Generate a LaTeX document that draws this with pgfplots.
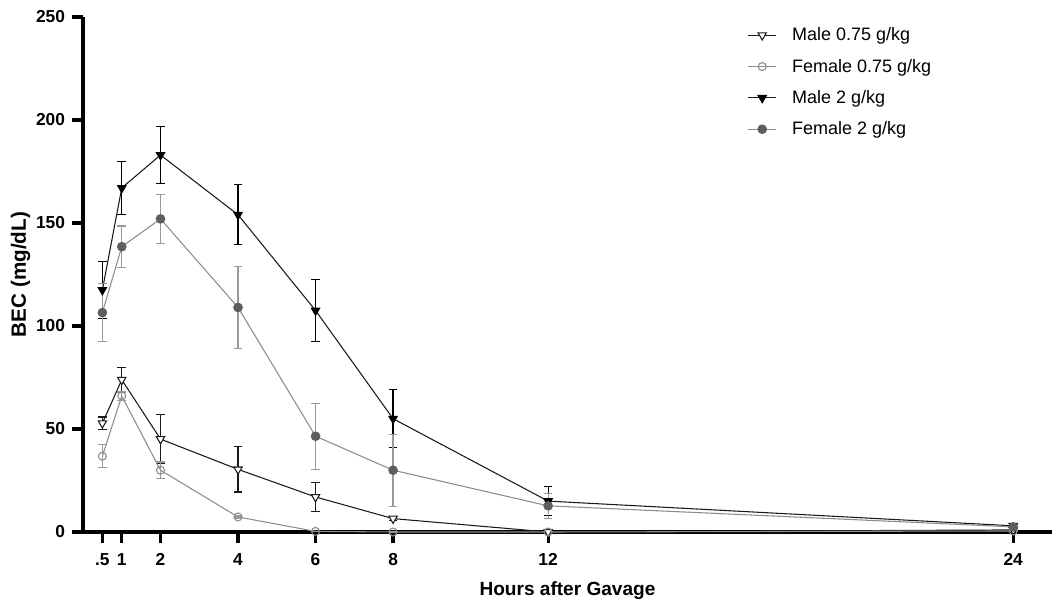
\documentclass[border=0pt]{standalone}
\usepackage{fontspec}
\setmainfont{Liberation Sans}
\usepackage{pgfplots}
\pgfplotsset{compat=1.18}
\definecolor{maleln}{HTML}{1A1A1A}
\definecolor{femln}{HTML}{8C8C8C}
\definecolor{femfill}{HTML}{5E5E5E}
\definecolor{femerr}{HTML}{999999}

\begin{document}
\begin{tikzpicture}
% page = 1056 x 603 px at 0.75pt/px, axis corner at px (83,532)
\useasboundingbox (-62.25pt,-53.25pt) rectangle (729.75pt,399pt);
\begin{axis}[
  at={(0,0)}, anchor=south west,
  scale only axis, width=726.75pt, height=386.25pt,
  xmin=0, xmax=25, ymin=0, ymax=250,
  axis lines=left, axis line style={line width=2.6pt, -},
  xtick={0.5,1,2,4,6,8,12,24}, xticklabels={.5,1,2,4,6,8,12,24},
  ytick={0,50,100,150,200,250},
  tick align=outside, major tick length=8pt,
  tick style={line width=2.4pt, black},
  tick label style={font=\fontsize{13}{15}\selectfont\bfseries},
  xticklabel style={yshift=-4.5pt},
  yticklabel style={xshift=-2pt},
  /pgf/number format/assume math mode=true,
  xlabel={Hours after Gavage}, ylabel={BEC (mg/dL)},
  xlabel style={font=\fontsize{14.3}{16}\selectfont\bfseries,
    at={(axis description cs:0.5,-0.113)}, anchor=center},
  ylabel style={font=\fontsize{15.5}{17}\selectfont\bfseries,
    at={(axis description cs:-0.0645,0.5)}, anchor=center},
  clip=false,
  legend style={draw=none, fill=none, at={(0.6815,0.99)}, anchor=north west,
    font=\fontsize{13.5}{15}\selectfont, row sep=8.2pt, cells={anchor=west}},
  legend image code/.code={\draw[mark repeat=2,mark phase=2]
    plot coordinates {(0cm,0cm) (0.37cm,0cm) (0.74cm,0cm)};
    \path[draw=none] (0cm,0cm) -- (1.09cm,0cm);},
  error bars/y dir=both, error bars/y explicit,
]
% Male 0.75 g/kg
\addplot[maleln, line width=0.8pt, mark=triangle*, mark size=3.6pt,
  mark options={rotate=180, fill=white, draw=maleln, line width=0.8pt},
  error bars/error bar style={maleln, line width=0.9pt},
  error bars/error mark options={rotate=90, mark size=3.2pt, line width=0.9pt}]
  coordinates {
  (0.5,52.8) +- (0,3)
  (1,73.9) +- (0,6)
  (2,45.1) +- (0,12)
  (4,30.4) +- (0,11)
  (6,17) +- (0,7)
  (8,6.5) +- (0,1)
  (12,0) +- (0,0.5)
  (24,1) +- (0,0.5)
  };
% Female 0.75 g/kg
\addplot[femln, line width=0.8pt, mark=o, mark size=3pt,
  mark options={fill=white, draw=femln, line width=0.8pt},
  error bars/error bar style={femerr, line width=0.9pt},
  error bars/error mark options={rotate=90, mark size=3.2pt, line width=0.9pt}]
  coordinates {
  (0.5,36.8) +- (0,5.5)
  (1,66) +- (0,2)
  (2,30) +- (0,4)
  (4,7.3) +- (0,0.5)
  (6,0.3) +- (0,0)
  (8,0) +- (0,0)
  (12,0) +- (0,0)
  (24,0.5) +- (0,0)
  };
% Male 2 g/kg
\addplot[maleln, line width=0.8pt, mark=triangle*, mark size=3.6pt,
  mark options={rotate=180, fill=black, draw=black},
  error bars/error bar style={black, line width=0.9pt},
  error bars/error mark options={rotate=90, mark size=3.2pt, line width=0.9pt}]
  coordinates {
  (0.5,117.5) +- (0,14)
  (1,167) +- (0,13)
  (2,183) +- (0,14)
  (4,154) +- (0,14.5)
  (6,107.5) +- (0,15)
  (8,55) +- (0,14)
  (12,15) +- (0,7)
  (24,3) +- (0,1)
  };
% Female 2 g/kg
\addplot[femln, line width=0.8pt, mark=*, mark size=3.2pt,
  mark options={fill=femfill, draw=femfill},
  error bars/error bar style={femerr, line width=0.9pt},
  error bars/error mark options={rotate=90, mark size=3.2pt, line width=0.9pt}]
  coordinates {
  (0.5,106.5) +- (0,14)
  (1,138.5) +- (0,10)
  (2,152) +- (0,12)
  (4,109) +- (0,20)
  (6,46.5) +- (0,16)
  (8,30) +- (0,17.5)
  (12,12.7) +- (0,6)
  (24,2.5) +- (0,1)
  };
\legend{Male 0.75 g/kg, Female 0.75 g/kg, Male 2 g/kg, Female 2 g/kg}
\end{axis}
\end{tikzpicture}
\end{document}
